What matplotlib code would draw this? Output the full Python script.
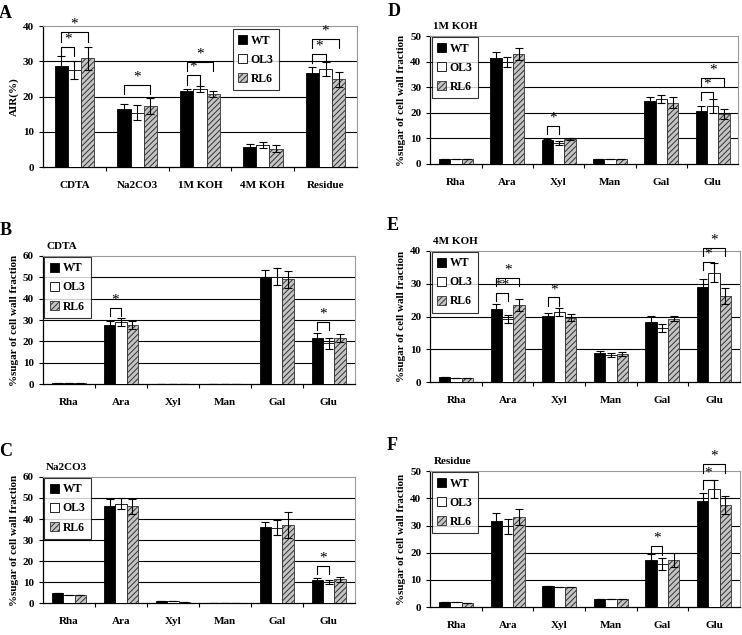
import numpy as np
import matplotlib
matplotlib.use('Agg')
import matplotlib.pyplot as plt

plt.rcParams['font.family'] = ['Liberation Serif', 'DejaVu Serif']
plt.rcParams['font.weight'] = 'bold'
plt.rcParams['hatch.linewidth'] = 0.7

genotypes = ['WT', 'OL3', 'RL6']
sugars = ['Rha', 'Ara', 'Xyl', 'Man', 'Gal', 'Glu']

# A: AIR(%) per fraction
fractions = ['CDTA', 'Na2CO3', '1M KOH', '4M KOH', 'Residue']
a_wt = [28.6, 16.6, 21.6, 5.7, 26.8]
a_ol3 = [27.5, 15.4, 22.1, 6.2, 27.7]
a_rl6 = [30.8, 17.3, 20.7, 5.2, 24.9]
a_wt_err = [2.8, 1.4, 0.6, 0.8, 1.6]
a_ol3_err = [2.6, 2.1, 0.9, 0.9, 2.0]
a_rl6_err = [3.2, 2.2, 0.9, 1.0, 2.1]

# B: CDTA
b_wt = [0.6, 27.7, 0, 0, 49.5, 21.5]
b_ol3 = [0.6, 28.9, 0, 0, 50.2, 19.1]
b_rl6 = [0.4, 27.7, 0, 0, 49.1, 21.5]
b_wt_err = [0, 1.9, 0, 0, 3.9, 2.5]
b_ol3_err = [0, 1.9, 0, 0, 4.0, 2.5]
b_rl6_err = [0, 2.0, 0, 0, 3.9, 2.0]

# C: Na2CO3
c_wt = [4.8, 46.3, 1.3, 0, 36.2, 11.1]
c_ol3 = [3.8, 47.3, 1.2, 0, 35.9, 10.1]
c_rl6 = [3.8, 46.0, 0.8, 0, 37.0, 11.3]
c_wt_err = [0, 3.4, 0, 0, 2.2, 1.0]
c_ol3_err = [0, 2.7, 0, 0, 3.6, 1.0]
c_rl6_err = [0, 3.5, 0, 0, 6.2, 1.0]

# D: 1M KOH
d_wt = [1.9, 41.4, 9.2, 1.9, 24.7, 20.7]
d_ol3 = [1.9, 39.9, 8.2, 2.0, 25.4, 22.7]
d_rl6 = [1.9, 42.9, 9.7, 2.0, 24.0, 19.4]
d_wt_err = [0, 2.5, 0.5, 0, 1.3, 2.0]
d_ol3_err = [0, 1.8, 0.8, 0, 1.5, 2.6]
d_rl6_err = [0, 2.3, 0.5, 0, 2.0, 2.0]

# E: 4M KOH
e_wt = [1.7, 22.3, 20.3, 8.8, 18.4, 28.9]
e_ol3 = [1.2, 19.2, 21.5, 8.3, 16.5, 33.4]
e_rl6 = [1.4, 23.5, 19.7, 8.6, 19.4, 26.2]
e_wt_err = [0, 1.5, 0.9, 0.6, 1.7, 2.4]
e_ol3_err = [0, 1.2, 1.2, 0.5, 1.2, 2.9]
e_rl6_err = [0, 1.8, 1.0, 0.6, 0.8, 2.5]

# F: Residue
f_wt = [1.8, 31.6, 7.6, 2.9, 17.4, 39.2]
f_ol3 = [1.8, 29.7, 7.4, 2.9, 15.7, 43.3]
f_rl6 = [1.6, 33.1, 7.4, 3.1, 17.4, 37.4]
f_wt_err = [0, 3.0, 0, 0, 2.0, 2.9]
f_ol3_err = [0, 2.8, 0, 0, 2.2, 3.3]
f_rl6_err = [0, 3.0, 0, 0, 2.5, 3.3]

# significance brackets: (category, second genotype index, bracket y, star text)
a_sig = [(0, 1, 34.0, '*'), (0, 2, 38.2, '*'), (1, 2, 23.2, '*'), (2, 1, 26.0, '*'),
         (2, 2, 29.9, '*'), (4, 1, 32.2, '*'), (4, 2, 36.3, '*')]
b_sig = [(1, 1, 35.8, '*'), (5, 1, 29.2, '*')]
c_sig = [(5, 1, 17.6, '*')]
d_sig = [(2, 1, 14.9, '*'), (5, 1, 28.2, '*'), (5, 2, 33.8, '*')]
e_sig = [(1, 1, 27.3, '**'), (1, 2, 31.8, '*'), (2, 1, 25.8, '*'),
         (5, 1, 36.7, '*'), (5, 2, 41.0, '*')]
f_sig = [(4, 1, 22.4, '*'), (5, 1, 46.6, '*'), (5, 2, 52.7, '*')]

fig = plt.figure(figsize=(7.42, 6.35), dpi=100)


def panel(rect, cats, wt, ol3, rl6, wt_e, ol3_e, rl6_e, ymax, step, sig,
          letter, title, ylabel, width):
    ax = fig.add_axes(rect)
    x = np.arange(len(cats))
    styles = [dict(color='black', edgecolor='black'),
              dict(color='white', edgecolor='black'),
              dict(color='#c4c4c4', edgecolor='#333333', hatch='//////')]
    vals = [wt, ol3, rl6]
    errs = [wt_e, ol3_e, rl6_e]
    for k in range(3):
        ax.bar(x + (k - 1) * width, vals[k], width, yerr=errs[k], label=genotypes[k],
               linewidth=0.6, capsize=3,
               error_kw=dict(elinewidth=0.8, capthick=0.8, ecolor='black'),
               zorder=3, **styles[k])
    ax.set_xlim(-0.5, len(cats) - 0.5)
    ax.set_ylim(0, ymax)
    ax.set_yticks(np.arange(0, ymax + 1, step))
    for yv in np.arange(step, ymax, step):
        ax.axhline(yv, color='black', lw=0.8, zorder=1)
    ax.set_xticks(x)
    ax.set_xticklabels(cats, fontsize=8, fontweight='bold')
    ax.set_xticks(np.arange(0.5, len(cats) - 0.5, 1), minor=True)
    ax.tick_params(axis='x', which='major', length=0, pad=10)
    ax.tick_params(axis='x', which='minor', length=3, direction='out', width=0.8)
    ax.tick_params(axis='y', length=3, labelsize=8, width=0.8)
    for lab in ax.get_yticklabels():
        lab.set_fontweight('bold')
    for s in ['top', 'right']:
        ax.spines[s].set_color('#999999')
        ax.spines[s].set_linewidth(0.8)
    for s in ['left', 'bottom']:
        ax.spines[s].set_linewidth(0.9)
    ax.set_ylabel(ylabel, fontsize=8, fontweight='bold', labelpad=3)

    # brackets
    d = ymax * 0.065
    for cat, g, yb, star in sig:
        x1 = cat - width
        x2 = cat + (g - 1) * width
        ax.plot([x1, x1, x2, x2], [yb - d, yb, yb, yb - d], color='black', lw=0.8,
                clip_on=False, zorder=4)
        ax.text((x1 + x2) / 2, yb + ymax * 0.01, star, ha='center', va='bottom',
                fontsize=11, fontweight='normal', clip_on=False, zorder=4)

    leg = ax.legend(loc='upper left', frameon=True, fancybox=False,
                    handlelength=0.8, handleheight=0.8, handletextpad=0.3,
                    labelspacing=0.6, borderpad=0.45, borderaxespad=0.1,
                    prop=dict(size=8.5, weight='bold'))
    leg.get_frame().set_edgecolor('black')
    leg.get_frame().set_linewidth(0.8)
    leg.set_zorder(5)

    ax.text(-0.14, 1.03 if title is None else 1.13, letter, transform=ax.transAxes,
            fontsize=13, fontweight='bold', ha='left', va='bottom')
    if title is not None:
        ax.text(0.01, 1.04, title, transform=ax.transAxes, fontsize=8,
                fontweight='bold', ha='left', va='bottom')
    return ax


ylab = '%sugar of cell wall fraction'

axA = panel([0.058, 0.737, 0.423, 0.222], fractions, a_wt, a_ol3, a_rl6,
            a_wt_err, a_ol3_err, a_rl6_err, 40, 10, a_sig, 'A', None, 'AIR(%)', 0.21)
axA.get_legend().set_bbox_to_anchor((0.6, 0.985), transform=axA.transAxes)

panel([0.058, 0.395, 0.420, 0.202], sugars, b_wt, b_ol3, b_rl6,
      b_wt_err, b_ol3_err, b_rl6_err, 60, 10, b_sig, 'B', 'CDTA', ylab, 0.22)
panel([0.058, 0.050, 0.420, 0.199], sugars, c_wt, c_ol3, c_rl6,
      c_wt_err, c_ol3_err, c_rl6_err, 60, 10, c_sig, 'C', 'Na2CO3', ylab, 0.22)
panel([0.580, 0.742, 0.415, 0.201], sugars, d_wt, d_ol3, d_rl6,
      d_wt_err, d_ol3_err, d_rl6_err, 50, 10, d_sig, 'D', '1M KOH', ylab, 0.22)
panel([0.580, 0.398, 0.417, 0.207], sugars, e_wt, e_ol3, e_rl6,
      e_wt_err, e_ol3_err, e_rl6_err, 40, 10, e_sig, 'E', '4M KOH', ylab, 0.22)
panel([0.580, 0.044, 0.417, 0.214], sugars, f_wt, f_ol3, f_rl6,
      f_wt_err, f_ol3_err, f_rl6_err, 50, 10, f_sig, 'F', 'Residue', ylab, 0.22)

fig.savefig('out.png', dpi=100)
